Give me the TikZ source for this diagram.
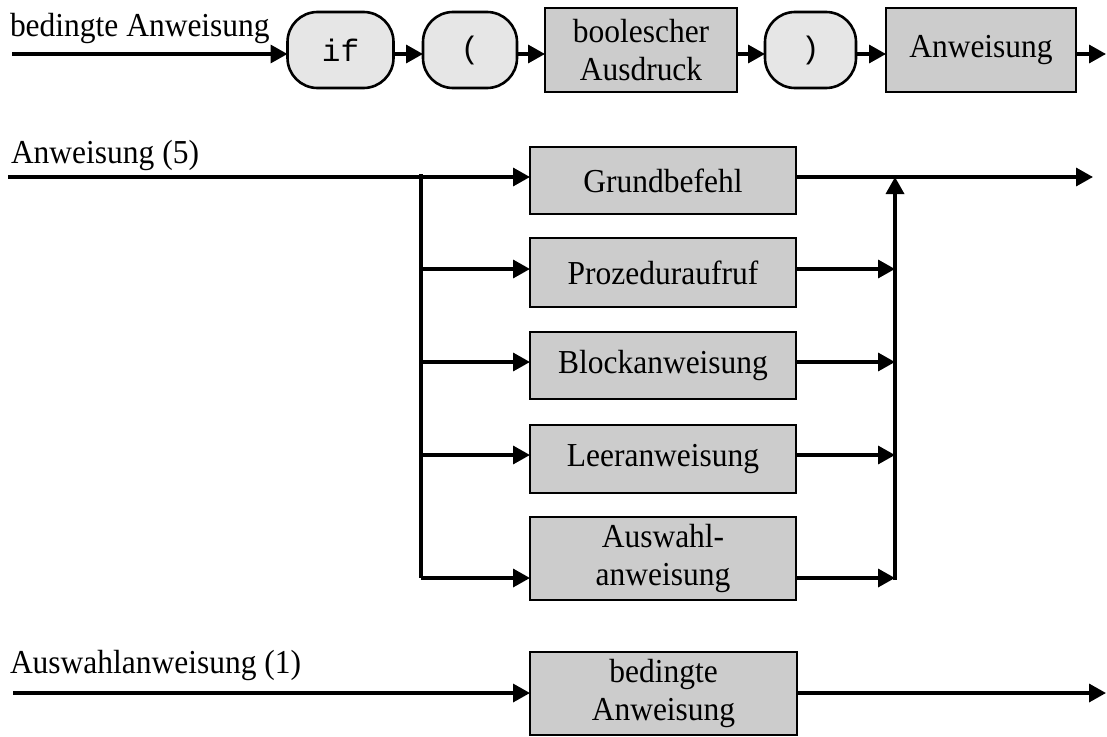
\documentclass[tikz,border=0pt]{standalone}
\usepackage{fontspec}
\setmainfont[FakeStretch=0.94]{Liberation Serif}
\setmonofont{Liberation Mono}
\usetikzlibrary{arrows.meta}
\definecolor{boxgray}{HTML}{CCCCCC}
\definecolor{termgray}{HTML}{E6E6E6}
\begin{document}
\begin{tikzpicture}[x=1pt,y=-1pt,
  every node/.style={inner sep=0pt, outer sep=0pt},
  wire/.style={line width=3.4pt},
  flow/.style={wire, -{Triangle[length=17pt,width=18pt]}},
  nonterm/.style={draw, line width=2.6pt, fill=boxgray, align=center,
    font=\fontsize{33.5}{38}\selectfont},
  term/.style={draw, line width=2.6pt, fill=termgray, rounded corners=30pt,
    minimum height=76pt, font=\fontsize{31}{34}\ttfamily},
  label/.style={anchor=base west, font=\fontsize{33.5}{38}\selectfont}
]
\useasboundingbox (0,0) rectangle (1107,736);

% ---- bedingte Anweisung ----
\node[label] (t1) at (10,36) {bedingte Anweisung};
\node[term, minimum width=106pt] (kif) at (340.5,50) {if};
\node[term, minimum width=94pt] (klp) at (470,50) {(};
\node[nonterm, minimum width=192pt, minimum height=84pt] (bool) at (641,50) {boolescher\\Ausdruck};
\node[term, minimum width=91pt] (krp) at (810.5,50) {)};
\node[nonterm, minimum width=190pt, minimum height=84pt] (anw) at (981,50) {Anweisung};
\coordinate (s1) at (12,54);
\coordinate (e1) at (1106,54);
\draw[flow] (s1) -- (s1 -| kif.west);
\draw[flow] ([yshift=-4pt]kif.east) -- ([yshift=-4pt]klp.west);
\draw[flow] ([yshift=-4pt]klp.east) -- ([yshift=-4pt]bool.west);
\draw[flow] ([yshift=-4pt]bool.east) -- ([yshift=-4pt]krp.west);
\draw[flow] ([yshift=-4pt]krp.east) -- ([yshift=-4pt]anw.west);
\draw[flow] ([yshift=-4pt]anw.east) -- (e1);

% ---- Anweisung (5) ----
\node[label] (t2) at (11,163) {Anweisung (5)};
\node[nonterm, minimum width=266pt, minimum height=67pt] (grund) at (663,180.5) {Grundbefehl};
\node[nonterm, minimum width=266pt, minimum height=69pt] (proz) at (663,272.5) {Prozeduraufruf};
\node[nonterm, minimum width=266pt, minimum height=67pt] (block) at (663,365.5) {Blockanweisung};
\node[nonterm, minimum width=266pt, minimum height=68pt] (leer) at (663,459) {Leeranweisung};
\node[nonterm, minimum width=266pt, minimum height=83pt] (ausw) at (663,558.5) {Auswahl-\\anweisung};
\coordinate (s2) at (8,177);
\coordinate (top2) at (421,174);
\coordinate (bp) at (421,269);
\coordinate (bb) at (421,362);
\coordinate (bl) at (421,455);
\coordinate (ba) at (421,578);
\coordinate (jp) at (895,269);
\coordinate (jb) at (895,362);
\coordinate (jl) at (895,455);
\coordinate (ja) at (895,578);
\coordinate (jt) at (895,177);
\coordinate (e2) at (1093,177);
\draw[flow] (s2) -- (s2 -| grund.west);
\draw[wire] (top2) -- (ba);
\draw[flow] (bp) -- (bp -| proz.west);
\draw[flow] (bb) -- (bb -| block.west);
\draw[flow] (bl) -- (bl -| leer.west);
\draw[flow] (ba) -- (ba -| ausw.west);
\draw[flow] (jp -| proz.east) -- (jp);
\draw[flow] (jb -| block.east) -- (jb);
\draw[flow] (jl -| leer.east) -- (jl);
\draw[flow] (ja -| ausw.east) -- (ja);
\draw[flow] ([yshift=-1.7pt]ja) -- (jt);
\draw[flow] (jt -| grund.east) -- (e2);

% ---- Auswahlanweisung (1) ----
\node[label] (t3) at (10,673) {Auswahlanweisung (1)};
\node[nonterm, minimum width=267pt, minimum height=83pt] (bed) at (663.5,693.5) {bedingte\\Anweisung};
\coordinate (s3) at (13,693);
\coordinate (e3) at (1106,693);
\draw[flow] (s3) -- (s3 -| bed.west);
\draw[flow] (bed.east |- e3) -- (e3);
\end{tikzpicture}
\end{document}
